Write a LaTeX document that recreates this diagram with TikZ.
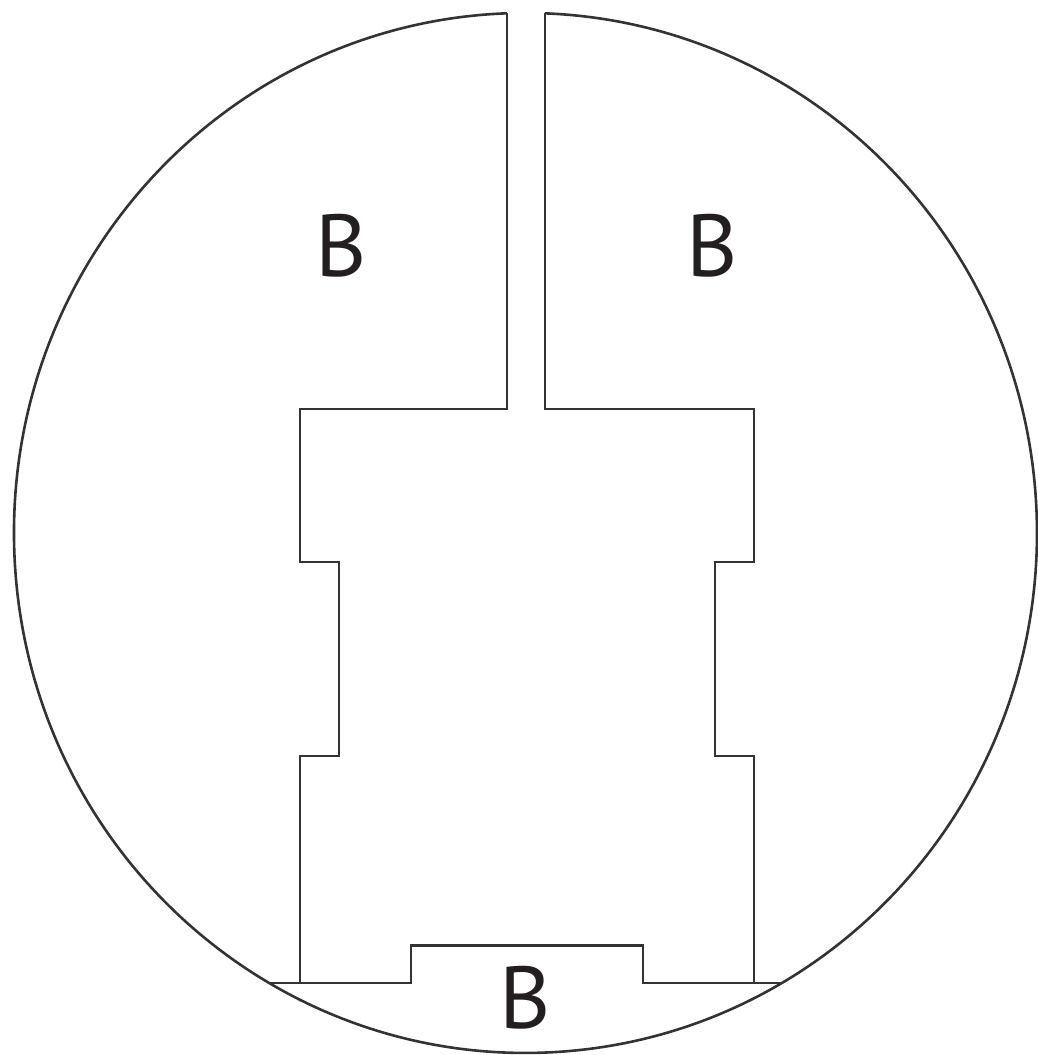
\documentclass[tikz,border=0pt]{standalone}
\usepackage{fontspec}
\setmainfont{PT Sans}
\usetikzlibrary{calc}
\definecolor{ink}{HTML}{333333}
\definecolor{letter}{HTML}{231F20}
\tikzset{
  wall/.style={draw=ink,line width=1.3pt,line join=miter},
  zonelabel/.style={text=letter,font=\fontsize{44}{50}\selectfont,inner sep=0pt}
}

\begin{document}
\begin{tikzpicture}[x=0.5pt,y=0.5pt]
  \useasboundingbox (0,0) rectangle (1038,-1055);
  % outer rim, open at the top
  \draw[wall] (507,-13.3) arc[start angle=92.07,end angle=447.82,x radius=511.5,y radius=520];
  % left wing
  \draw[wall] (507,-13.3) -- (507,-409) -- (300,-409) -- (300,-562) -- (339,-562)
    -- (339,-756) -- (300,-756) -- (300,-983);
  % right wing
  \draw[wall] (545,-13.3) -- (545,-409) -- (754,-409) -- (754,-562) -- (715,-562)
    -- (715,-756) -- (754,-756) -- (754,-983);
  % bottom chord
  \draw[wall] (269.2,-983) -- (411,-983) -- (411,-945.7) -- (643,-945.7)
    -- (643,-983) -- (781.8,-983);

  \node[zonelabel] (bleft) at (341,-245.5) {B};
  \node[zonelabel] (bright) at (712,-245.5) {B};
  \node[zonelabel] (bbottom) at (525,-998) {B};
\end{tikzpicture}
\end{document}
